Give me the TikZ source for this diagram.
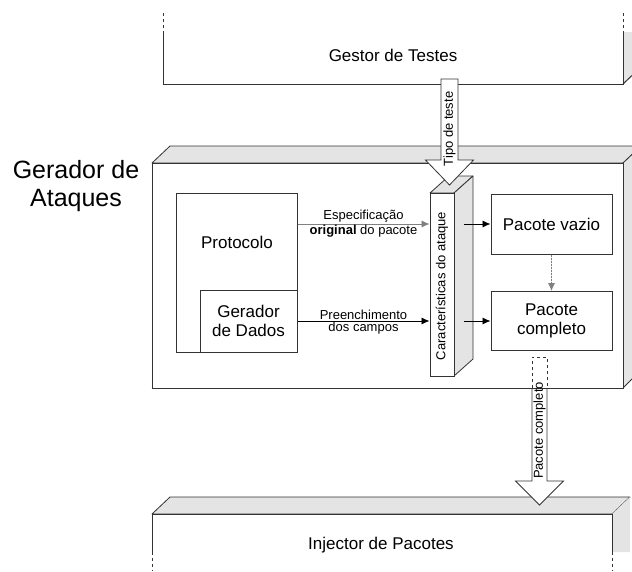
\documentclass[tikz,border=0pt]{standalone}
\usepackage{fontspec}
\setmainfont{Liberation Sans}
\usetikzlibrary{arrows.meta}
\definecolor{ln}{HTML}{333333}
\definecolor{face}{HTML}{E4E4E4}
\begin{document}
\begin{tikzpicture}[x=1pt,y=-1pt,
  edge/.style={draw=ln, line width=1pt},
  facefill/.style={fill=face, draw=ln, line width=0.8pt, line join=round},
  box/.style={draw=ln, line width=1pt, fill=white, rectangle, inner sep=0pt},
  big/.style={font=\fontsize{17}{19}\selectfont, align=center},
  small/.style={font=\fontsize{13}{14.5}\selectfont, align=center, inner sep=1pt},
  arr/.style={-{Latex[length=8pt,width=7pt]}, line width=0.8pt, draw=black},
  garr/.style={-{Latex[length=8pt,width=7pt]}, line width=0.8pt, draw=gray, fill=gray},
  hollow/.style={draw=ln, line width=0.8pt, line join=miter}]
\useasboundingbox (0,0) rectangle (632,571);
\clip (0,0) rectangle (632,571);

% ---- top box: Gestor de Testes
\fill[face] (623,32) -- (641,32) -- (641,67) -- (623,84) -- cycle;
\draw[edge] (623,84) -- (641,67);
\draw[edge] (163,32) -- (163,84) -- (623,84) -- (623,32);
\draw[edge, dashed] (163,13) -- (163,32) (623,13) -- (623,32);
\node[big] (gestor) at (393,55) {Gestor de Testes};

% ---- bottom box: Injector de Pacotes
\filldraw[facefill] (152,514) -- (170,497) -- (630,497) -- (612,514) -- cycle;
\fill[face] (612,514) -- (630,497) -- (630,552) -- (612,552) -- cycle;
\draw[edge] (152,552) -- (152,514) -- (612,514) -- (612,552);
\draw[edge, dashed] (152,552) -- (152,571) (612,552) -- (612,571);
\node[big] (injector) at (381,545) {Injector de Pacotes};

% ---- main box: Gerador de Ataques
\filldraw[facefill] (152,163) -- (170,146) -- (641,146) -- (623,163) -- cycle;
\filldraw[facefill] (623,163) -- (641,146) -- (641,370) -- (623,388) -- cycle;
\node[box, minimum width=471pt, minimum height=225pt] (main) at (387.5,275.5) {};
\node[font=\fontsize{25}{28.5}\selectfont, align=center] (gerlab) at (76,186) {Gerador de\\Ataques};

% ---- inner boxes
\node[box, minimum width=121pt, minimum height=159pt] (proto) at (236.5,272.5) {};
\node[big] (protolab) at (237,242) {Protocolo};
\node[box, big, minimum width=97pt, minimum height=62pt] (gdados) at (248.5,321) {Gerador\\de Dados};

\filldraw[facefill] (430,193) -- (449,176) -- (473,176) -- (454,193) -- cycle;
\filldraw[facefill] (454,193) -- (473,176) -- (473,359) -- (454,376) -- cycle;
\node[box, minimum width=24pt, minimum height=183pt] (carac) at (442,284.5) {};
\node[small, rotate=90] (caraclab) at (442,286) {Características do ataque};

\node[box, big, minimum width=121pt, minimum height=60pt] (vazio) at (551.5,224) {Pacote vazio};
\node[box, big, minimum width=121pt, minimum height=59pt] (completo) at (551.5,321) {Pacote\\completo};

% ---- connectors
\draw[garr] (proto.east |- vazio.west) -- (carac.west |- vazio.west)
  node[midway, above, small] {Especificação}
  node[midway, below, small] {\textbf{original} do pacote};
\draw[arr] (gdados.east |- completo.west) -- (carac.west |- completo.west)
  node[midway, above, small] {Preenchimento}
  node[midway, below, small] {dos campos};
\coordinate (cr) at ([xshift=9pt]carac.east);
\draw[arr] (cr |- vazio.west) -- (vazio.west);
\draw[arr] (cr |- completo.west) -- (completo.west);
\draw[garr, dash pattern=on 2pt off 1pt] (vazio.south) -- (completo.north);

% ---- hollow arrow: Tipo de teste
\filldraw[hollow, fill=white] (441,79) -- (458,79) -- (458,160) -- (473.5,160) -- (449.5,185)
  -- (425.5,160) -- (441,160) -- cycle;
\node[small, rotate=90] (tipo) at (449.5,129) {Tipo de teste};

% ---- hollow arrow: Pacote completo
\fill[white] (532,357) -- (547,357) -- (547,481) -- (563.5,481) -- (539.5,505)
  -- (515.5,481) -- (532,481) -- cycle;
\draw[hollow] (532,388) -- (532,481) -- (515.5,481) -- (539.5,505) -- (563.5,481)
  -- (547,481) -- (547,388);
\draw[hollow, dashed] (532,388) -- (532,357) -- (547,357) -- (547,388);
\draw[edge] (main.south west) -- (main.south east);
\node[small, rotate=90] (pcl) at (539.5,430.5) {Pacote completo};
\end{tikzpicture}
\end{document}
